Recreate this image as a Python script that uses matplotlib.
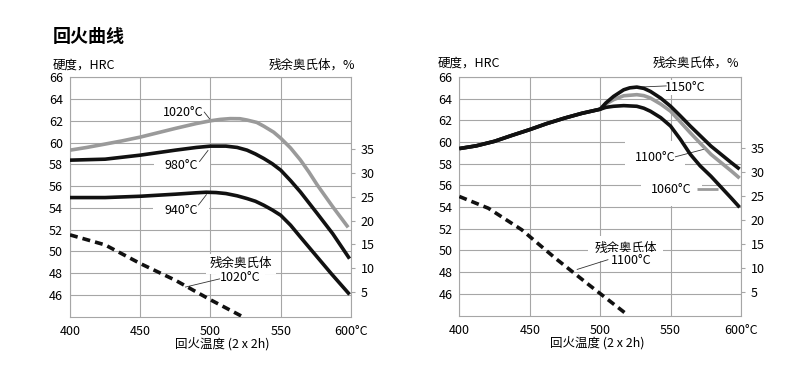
import matplotlib
matplotlib.use("Agg")
import matplotlib.pyplot as plt

plt.rcParams['font.family'] = ['Noto Sans CJK SC', 'DejaVu Sans']

# ---- left chart: hardness (HRC) vs tempering temperature
t_1020 = [400, 412, 425, 437, 450, 475, 490, 500, 507, 514, 521, 526, 533, 538, 545,
          550, 557, 564, 570, 576, 587, 598]
h_1020 = [59.3, 59.55, 59.86, 60.15, 60.5, 61.3, 61.75, 62.0, 62.13, 62.2, 62.19, 62.07,
          61.85, 61.5, 60.95, 60.4, 59.5, 58.4, 57.3, 56.1, 54.1, 52.2]
t_980 = [400, 425, 450, 475, 490, 500, 511, 519, 526, 532, 538, 544, 550, 557, 564, 576,
         587, 599]
h_980 = [58.38, 58.47, 58.84, 59.3, 59.55, 59.67, 59.67, 59.55, 59.3, 58.95, 58.53, 58.05,
         57.46, 56.5, 55.46, 53.47, 51.62, 49.32]
t_940 = [400, 425, 450, 475, 490, 497, 504, 511, 519, 526, 532, 538, 544, 550, 557, 564,
         576, 586, 599]
h_940 = [54.94, 54.94, 55.06, 55.25, 55.38, 55.43, 55.4, 55.31, 55.1, 54.85, 54.6, 54.23,
         53.8, 53.31, 52.4, 51.31, 49.47, 47.94, 46.03]
# retained austenite (%) after 1020°C
t_ra_l = [400, 425, 450, 475, 500, 522]
ra_l = [17.0, 14.9, 11.0, 7.5, 3.4, 0.0]

# ---- right chart
t_common = [400, 412, 425, 437, 450, 462, 475, 487, 500]
h_common = [59.4, 59.65, 60.07, 60.6, 61.15, 61.7, 62.22, 62.65, 63.03]
t_1150 = [504, 509.5, 516.7, 521, 526, 531, 535.7, 543, 550, 557, 564, 578.6, 593, 599]
h_1150 = [63.6, 64.21, 64.82, 65.0, 65.07, 64.95, 64.67, 64.05, 63.3, 62.4, 61.47, 59.63,
          58.11, 57.5]
t_1100 = [504, 509.5, 516.7, 526, 531, 535.7, 543, 550, 557, 564, 578.6, 593, 599]
h_1100 = [63.5, 63.91, 64.27, 64.37, 64.28, 64.06, 63.5, 62.84, 61.85, 60.85, 58.87, 57.34,
          56.67]
t_1060 = [504, 509.5, 516.7, 526, 531, 535.7, 543, 550, 557, 564, 571, 578.6, 593, 599]
h_1060 = [63.2, 63.3, 63.36, 63.3, 63.12, 62.84, 62.25, 61.47, 60.24, 58.87, 57.8, 56.85,
          54.84, 53.98]
t_ra_r = [400, 420.6, 444.3, 468, 491.6, 520]
ra_r = [24.85, 22.4, 17.9, 12.0, 6.5, 0.0]

x_ticks = [400, 450, 500, 550, 600]
x_labels = ['400', '450', '500', '550', '600°C']
hrc_ticks = list(range(46, 67, 2))
ra_ticks = [5, 10, 15, 20, 25, 30, 35]

GRID = '#a6a6a6'
GRAY = '#9a9a9a'
BLACK = '#111111'
FS = 9

fig = plt.figure(figsize=(7.98, 3.74), dpi=100)


def setup(ax, ra_lim, xlab_x):
    ax.set_xlim(400, 600)
    ax.set_ylim(44, 66)
    ax.set_xticks(x_ticks)
    ax.set_xticklabels(x_labels)
    ax.set_yticks(hrc_ticks)
    ax.grid(True, color=GRID, lw=0.8)
    ax.set_axisbelow(True)
    for s in ax.spines.values():
        s.set_color(GRID)
        s.set_linewidth(0.8)
    ax.tick_params(axis='x', length=0, pad=6, labelsize=FS)
    ax.tick_params(axis='y', length=0, pad=5, labelsize=FS)
    ax.text(xlab_x, -0.115, '回火温度 (2 x 2h)', transform=ax.transAxes,
            ha='center', va='center', fontsize=FS)
    ax2 = ax.twinx()
    ax2.set_ylim(*ra_lim)
    ax2.set_yticks(ra_ticks)
    for s in ax2.spines.values():
        s.set_visible(False)
    ax2.tick_params(axis='y', length=3, width=0.8, color=GRID, pad=4, labelsize=FS)
    return ax2


def curve(ax, x, y, color, z=3):
    ax.plot(x, y, color=color, lw=2.6, zorder=z, solid_capstyle='butt',
            solid_joinstyle='round')


def label(ax, s, xy, line=None, lc='#333333', lw=0.6, pad=0.4):
    ax.text(xy[0], xy[1], s, ha='center', va='center', fontsize=FS, zorder=2.5,
            bbox=dict(boxstyle=f'square,pad={pad}', fc='white', ec='none'))
    if line is not None:
        ax.plot([line[0][0], line[1][0]], [line[0][1], line[1][1]],
                color=lc, lw=lw, zorder=2.6, solid_capstyle='butt')


dash = (2.2, 1.4)

# left
axL = fig.add_axes([0.0877, 0.1537, 0.3521, 0.6396])
axL2 = setup(axL, (-0.1, 50.0), 0.541)
curve(axL, t_1020, h_1020, GRAY)
curve(axL, t_980, h_980, BLACK)
curve(axL, t_940, h_940, BLACK)
axL2.plot(t_ra_l, ra_l, color=BLACK, lw=2.6, dashes=dash)
label(axL, '1020°C', (480.4, 62.8), ((495.4, 62.83), (500.1, 62.06)), pad=0.2)
label(axL, '980°C', (479.4, 57.92), ((492.0, 58.22), (498.4, 59.3)), pad=0.9)
label(axL, '940°C', (479.0, 53.77), ((491.3, 54.23), (497.3, 55.24)), pad=0.9)
label(axL, '残余奥氏体', (521.4, 48.84), pad=0.3)
label(axL, '1020°C', (521.4, 47.55), ((506.8, 47.47), (481.9, 46.7)), pad=0.3)

# right
axR = fig.add_axes([0.5756, 0.1564, 0.3530, 0.6377])
axR2 = setup(axR, (0.0, 49.8), 0.491)
curve(axR, t_common + t_1100, h_common + h_1100, GRAY)
curve(axR, t_common + t_1150, h_common + h_1150, BLACK, 3.1)
curve(axR, t_common + t_1060, h_common + h_1060, BLACK, 3.1)
axR2.plot(t_ra_r, ra_r, color=BLACK, lw=2.6, dashes=dash)
label(axR, '1150°C', (560.6, 65.01), ((526, 65.06), (547.2, 65.18)), pad=0.1)
label(axR, '1100°C', (538.9, 58.56), ((553.1, 58.63), (574.4, 59.36)), pad=0.8)
label(axR, '1060°C', (550.8, 55.6), ((568.5, 55.68), (583.9, 55.68)), lc=GRAY, lw=2.0, pad=0.8)
label(axR, '残余奥氏体', (518.3, 50.17), pad=0.5)
label(axR, '1100°C', (521.9, 49.07), ((505.8, 49.16), (483.4, 48.24)), pad=0.2)

# headers
fig.text(0.066, 1 - 36 / 374, '回火曲线', fontsize=13, fontweight='bold', va='center')
fig.text(52.7 / 798, 1 - 65 / 374, '硬度，HRC', fontsize=FS, va='center')
fig.text(355 / 798, 1 - 65 / 374, '残余奥氏体，%', fontsize=FS, va='center', ha='right')
fig.text(437.7 / 798, 1 - 63 / 374, '硬度，HRC', fontsize=FS, va='center')
fig.text(739 / 798, 1 - 63 / 374, '残余奥氏体，%', fontsize=FS, va='center', ha='right')

fig.savefig('out.png', dpi=100)
